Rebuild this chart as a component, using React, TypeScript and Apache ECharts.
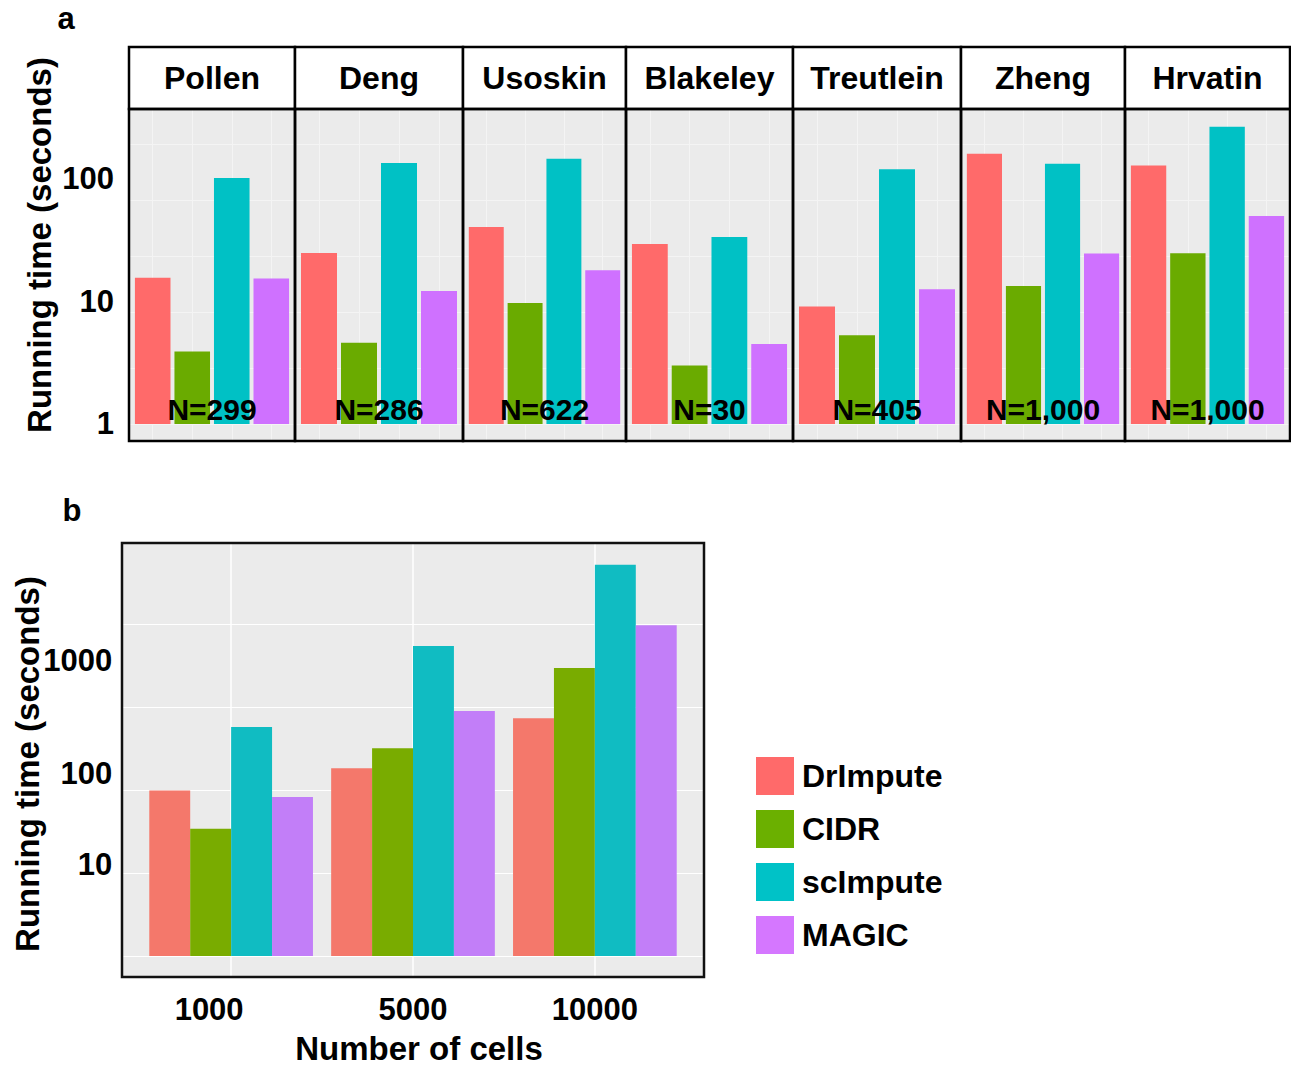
import React, { useEffect, useRef } from 'react';
import * as echarts from 'echarts';

// ---------- data ----------
const methods = ['DrImpute', 'CIDR', 'scImpute', 'MAGIC'];
const datasets = ['Pollen', 'Deng', 'Usoskin', 'Blakeley', 'Treutlein', 'Zheng', 'Hrvatin'];
const cellCounts = [299, 286, 622, 30, 405, 1000, 1000];
// panel a: running time (seconds) per dataset
const drImputeA = [15.6, 24.9, 40.6, 29.5, 9.1, 161, 129];
const cidrA = [3.9, 4.6, 9.7, 3.0, 5.3, 13.4, 24.7];
const scImputeA = [102, 135, 146, 33.6, 120, 133, 267];
const magicA = [15.4, 12.2, 18.0, 4.5, 12.6, 24.6, 49.9];
// panel b: running time (seconds) per number of cells
const cellNumbersB = ['1000', '5000', '10000'];
const drImputeB = [66, 116, 409];
const cidrB = [25, 192, 1460];
const scImputeB = [328, 2550, 19950];
const magicB = [56, 492, 4300];
const yTicksA = [1, 10, 100];
const yTicksB = [10, 100, 1000];

// ---------- styling / layout ----------
const FONT = '"Liberation Sans", Arial, Helvetica, sans-serif';
const colorsA = ['#FF6A6A', '#6AAB00', '#00C1C5', '#CF71FF'];
const colorsB = ['#F4786B', '#79AC00', '#10BCC2', '#C27EF8'];
const legendColors = ['#FF6A6A', '#6BB000', '#00C2C7', '#D577FF'];
const facetEdges = [129, 295, 463, 626, 793, 961, 1125, 1290];
const STRIP_TOP = 47;
const A_TOP = 109;
const A_BOTTOM = 441;
const B_LEFT = 122;
const B_RIGHT = 704;
const B_TOP = 543;
const B_BOTTOM = 977;

const isTick = (v: number, list: number[]) => list.some((t) => Math.abs(v - t) < t * 1e-6);

function buildOption() {
  const grid: any[] = [];
  const xAxis: any[] = [];
  const yAxis: any[] = [];
  const series: any[] = [];
  const graphic: any[] = [];
  const valsA = [drImputeA, cidrA, scImputeA, magicA];
  const valsB = [drImputeB, cidrB, scImputeB, magicB];
  const hidden = { axisLine: { show: false }, axisTick: { show: false } };

  datasets.forEach((name, i) => {
    const left = facetEdges[i];
    const width = facetEdges[i + 1] - left;
    grid.push({
      left, top: A_TOP, width, height: A_BOTTOM - A_TOP,
      show: true, backgroundColor: '#EBEBEB', borderWidth: 0,
    });
    xAxis.push({
      type: 'category', gridIndex: i, data: [name], ...hidden,
      axisLabel: { show: false }, splitLine: { show: false },
    });
    xAxis.push({
      type: 'value', gridIndex: i, min: 0.4, max: 4.6, splitNumber: 3, ...hidden,
      axisLabel: { show: false },
      splitLine: { show: true, lineStyle: { color: '#F4F4F4', width: 1 } },
    });
    yAxis.push({
      type: 'log', gridIndex: i, logBase: 10, min: 0.7264, max: 372.5, ...hidden,
      splitLine: { show: false },
      axisLabel: {
        show: i === 0, showMinLabel: false, showMaxLabel: false,
        fontSize: 31, fontWeight: 'bold', fontFamily: FONT, color: '#000', margin: 15,
        formatter: (v: number) => (isTick(v, yTicksA) ? String(Math.round(v)) : ''),
      },
    });
    yAxis.push({
      type: 'log', gridIndex: i, logBase: Math.sqrt(10), min: 0.705, max: 649.4, ...hidden,
      position: 'left',
      axisLabel: { show: false },
      splitLine: { show: true, lineStyle: { color: '#F4F4F4', width: 1 } },
    });
    methods.forEach((m, k) => {
      series.push({
        type: 'bar', name: m, xAxisIndex: 2 * i, yAxisIndex: 2 * i,
        data: [valsA[k][i]], barWidth: '21.43%', barGap: '11.11%',
        itemStyle: { color: colorsA[k] }, z: 3,
      });
    });
    // strip + borders
    graphic.push({
      type: 'rect', z: 100,
      shape: { x: left, y: STRIP_TOP, width, height: A_TOP - STRIP_TOP },
      style: { fill: '#fff', stroke: '#000', lineWidth: 2.5 },
    });
    graphic.push({
      type: 'rect', z: 100,
      shape: { x: left, y: A_TOP, width, height: A_BOTTOM - A_TOP },
      style: { fill: 'none', stroke: '#000', lineWidth: 2.5 },
    });
    graphic.push({
      type: 'text', z: 101, x: left + width / 2, y: (STRIP_TOP + A_TOP) / 2,
      style: {
        text: name, align: 'center', verticalAlign: 'middle',
        fontSize: 32, fontWeight: 'bold', fontFamily: FONT, fill: '#000',
      },
    });
    graphic.push({
      type: 'text', z: 101, x: left + width / 2, y: 409,
      style: {
        text: 'N=' + cellCounts[i].toLocaleString('en-US'), align: 'center', verticalAlign: 'middle',
        fontSize: 30, fontWeight: 'bold', fontFamily: FONT, fill: '#000',
      },
    });
  });

  // panel b: background grid (gridlines) and bar grid
  const bW = B_RIGHT - B_LEFT;
  const unit = bW / 3.2;
  grid.push({
    left: B_LEFT, top: B_TOP, width: bW, height: B_BOTTOM - B_TOP,
    show: true, backgroundColor: '#EBEBEB', borderWidth: 0,
  });
  grid.push({
    left: B_LEFT + 0.1 * unit, top: B_TOP, width: 3 * unit, height: B_BOTTOM - B_TOP, show: false,
  });
  const gB0 = datasets.length;
  const gB1 = datasets.length + 1;
  xAxis.push({
    type: 'value', gridIndex: gB0, min: 0.4, max: 3.6, splitNumber: 3, ...hidden,
    axisLabel: { show: false },
    splitLine: { show: true, lineStyle: { color: '#FFFFFF', width: 1.5 } },
  });
  yAxis.push({
    type: 'log', gridIndex: gB0, logBase: 10, min: 0.5584, max: 94600, ...hidden,
    axisLabel: { show: false },
    splitLine: { show: true, lineStyle: { color: '#FFFFFF', width: 1.2 } },
  });
  const bLabel = { fontSize: 31, fontWeight: 'bold', fontFamily: FONT, color: '#000' };
  xAxis.push({
    type: 'category', gridIndex: gB1, data: cellNumbersB, ...hidden,
    splitLine: { show: false },
    axisLabel: {
      ...bLabel, margin: 17,
      formatter: (v: string, idx: number) => (idx === 0 ? '{l|' + v + '}' : v),
      rich: { l: { ...bLabel, padding: [0, 44, 0, 0] } },
    },
    name: 'Number of cells', nameLocation: 'middle', nameGap: 55,
    nameTextStyle: { fontSize: 33, fontWeight: 'bold', fontFamily: FONT, color: '#000', padding: [0, 0, 0, 12] },
  });
  yAxis.push({
    type: 'log', gridIndex: gB1, logBase: 10, min: 0.5878, max: 34540, ...hidden,
    splitLine: { show: false },
    axisLabel: {
      showMinLabel: false, showMaxLabel: false,
      ...bLabel, margin: 28,
      formatter: (v: number) => {
        if (!isTick(v, yTicksB)) return '';
        const s = String(Math.round(v));
        return Math.round(v) === 1000 ? '{up|' + s + '}' : s;
      },
      rich: { up: { ...bLabel, padding: [0, 0, 44, 0] } },
    },
  });
  methods.forEach((m, k) => {
    series.push({
      type: 'bar', name: m, xAxisIndex: 2 * datasets.length + 1, yAxisIndex: 2 * datasets.length + 1,
      data: valsB[k], barWidth: '22.5%', barGap: '0%',
      itemStyle: { color: colorsB[k] }, z: 3,
    });
  });
  graphic.push({
    type: 'rect', z: 100,
    shape: { x: B_LEFT, y: B_TOP, width: bW, height: B_BOTTOM - B_TOP },
    style: { fill: 'none', stroke: '#111', lineWidth: 2.5 },
  });

  // titles and panel letters
  const textStyle = (text: string, size: number) => ({
    text, align: 'center', verticalAlign: 'middle',
    fontSize: size, fontWeight: 'bold', fontFamily: FONT, fill: '#000',
  });
  graphic.push({ type: 'text', z: 101, x: 39, y: 245, rotation: Math.PI / 2, style: textStyle('Running time (seconds)', 33) });
  graphic.push({ type: 'text', z: 101, x: 27, y: 764, rotation: Math.PI / 2, style: textStyle('Running time (seconds)', 33) });
  graphic.push({ type: 'text', z: 101, x: 66, y: 18, style: textStyle('a', 31) });
  graphic.push({ type: 'text', z: 101, x: 72, y: 510, style: textStyle('b', 31) });

  return {
    animation: false,
    backgroundColor: '#FFFFFF',
    grid, xAxis, yAxis, series, graphic,
    legend: {
      orient: 'vertical', left: 756, top: 757, padding: 0,
      itemWidth: 38, itemHeight: 38, itemGap: 15, icon: 'rect', selectedMode: false,
      textStyle: {
        fontSize: 32, fontWeight: 'bold', fontFamily: FONT, color: '#000',
        lineHeight: 38, padding: [0, 0, 0, 3],
      },
      data: methods.map((m, k) => ({ name: m, itemStyle: { color: legendColors[k] } })),
    },
  };
}

export default function App() {
  const ref = useRef<HTMLDivElement>(null);
  useEffect(() => {
    document.body.style.margin = '0';
    const chart = echarts.init(ref.current!, null, { renderer: 'svg', width: 1291, height: 1068 });
    chart.setOption(buildOption() as any);
    return () => chart.dispose();
  }, []);
  return (
    <div
      ref={ref}
      style={{ width: 1291, height: 1068, position: 'absolute', left: 0, top: 0 }}
    />
  );
}
